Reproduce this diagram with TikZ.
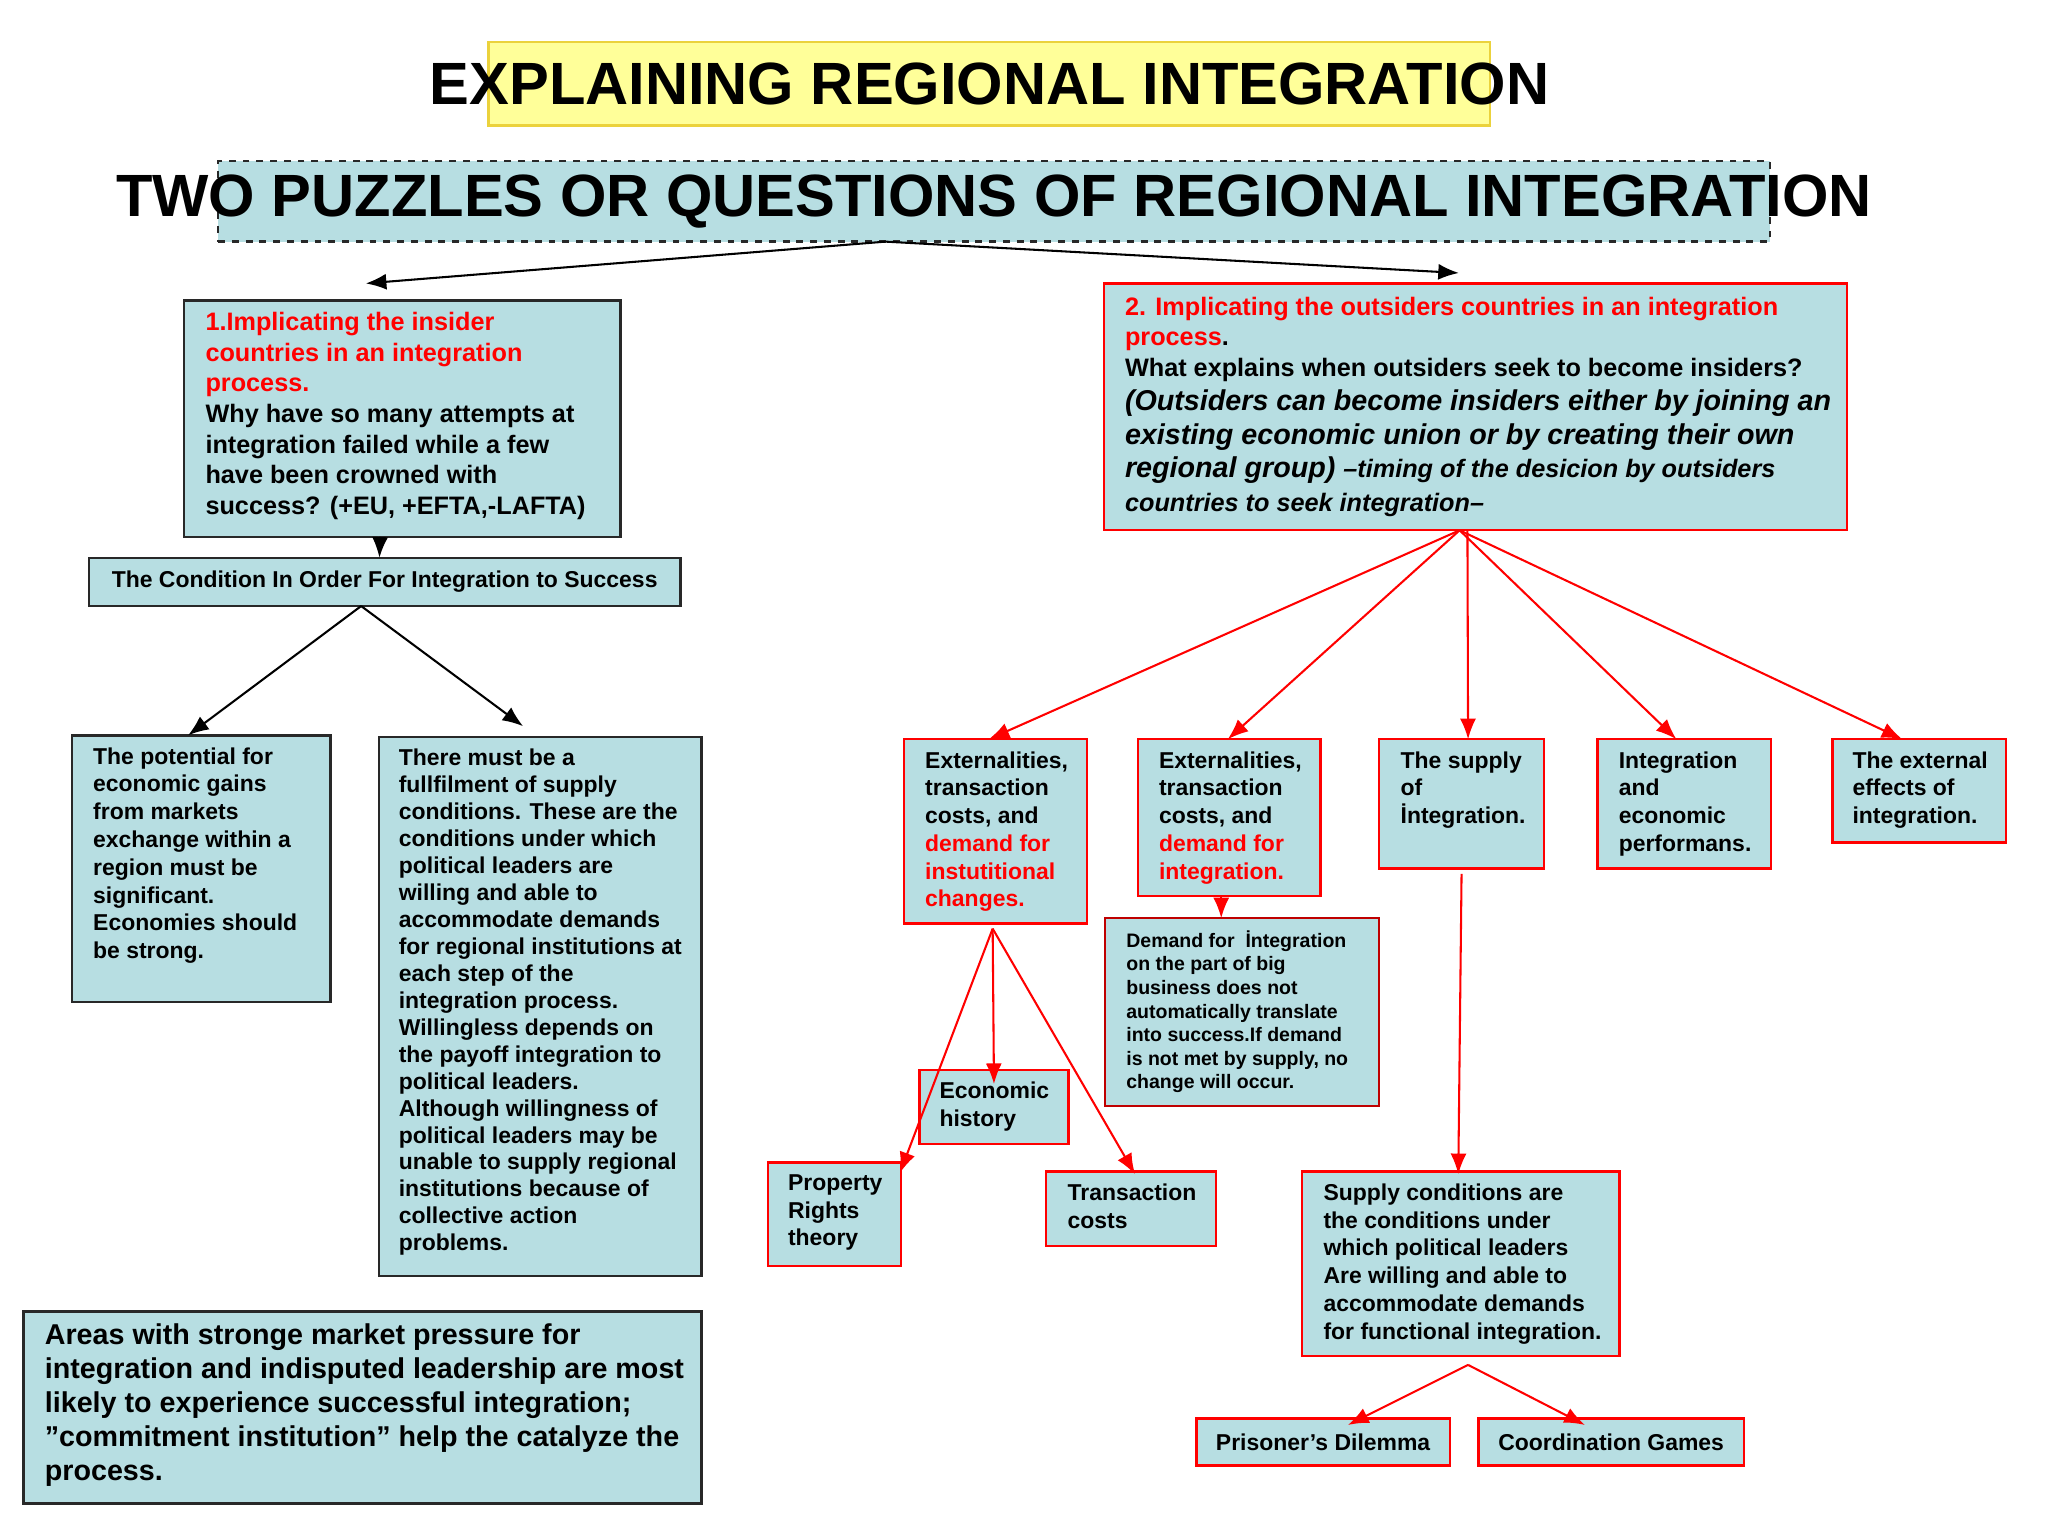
\documentclass[tikz,border=0pt]{standalone}
\usepackage{fontspec}
\setmainfont{Liberation Sans}
\usetikzlibrary{arrows.meta}
\definecolor{lb}{RGB}{183,222,226}
\definecolor{yl}{RGB}{255,255,153}
\definecolor{gd}{RGB}{235,210,60}
\definecolor{rd}{RGB}{255,0,0}
\definecolor{dg}{RGB}{40,40,40}
\newcommand\bx[6]{\node[#6,minimum width={(#4-#2)*0.02cm},minimum height={(#5-#3)*0.02cm}] (#1) at ({(#2+#4)/2},{(#3+#5)/2}) {};}
\tikzset{
 box/.style={draw=dg,fill=lb,line width=1pt,inner sep=0,outer sep=0},
 rbox/.style={draw=rd,fill=lb,line width=1pt,inner sep=0,outer sep=0},
 txt/.style={anchor=north west,align=left,inner sep=0,font=\bfseries\fontsize{10}{12.1}\selectfont},
 ba/.style={-{Latex[length=9pt,width=7pt]},line width=0.9pt},
 ra/.style={-{Latex[length=9pt,width=7pt]},line width=0.9pt,draw=rd},
}
\begin{document}
\begin{tikzpicture}[x=0.02cm,y=-0.02cm]
\useasboundingbox (0,0) rectangle (1568,1176);
\fill[white] (0,0) rectangle (1568,1176);
% title
\bx{title}{374}{32}{1141}{96}{draw=gd,fill=yl,line width=1pt,inner sep=0}
\node[font=\bfseries\fontsize{26}{30}\selectfont] at (title) {EXPLAINING REGIONAL INTEGRATION};
\bx{puz}{167}{123}{1355}{185}{box,dashed,line width=1pt}
\node[font=\bfseries\fontsize{26}{30}\selectfont] at (puz) {TWO PUZZLES OR QUESTIONS OF REGIONAL INTEGRATION};
% left
\bx{ins}{141}{230}{475}{411}{box}
\node[txt,font=\bfseries\fontsize{11}{13.3}\selectfont] at (157,239) {\textcolor{rd}{1.Implicating the insider}\\\textcolor{rd}{countries in an integration}\\\textcolor{rd}{process.}\\Why have so many attempts at\\integration failed while a few\\have been crowned with\\success? (+EU, +EFTA,-LAFTA)};
\bx{cond}{68}{427}{521}{464}{box}
\node[font=\bfseries\fontsize{10}{12}\selectfont] at (cond) {The Condition In Order For Integration to Success};
\bx{pot}{55}{563}{253}{767}{box}
\node[txt] at (71,572) {The potential for\\economic gains\\from markets\\exchange within a\\region must be\\significant.\\Economies should\\be strong.};
\bx{must}{290}{564}{537}{977}{box}
\node[txt,font=\bfseries\fontsize{10}{11.75}\selectfont] at (305,573) {There must be a\\fullfilment of supply\\conditions. These are the\\conditions under which\\political leaders are\\willing and able to\\accommodate demands\\for regional institutions at\\each step of the\\integration process.\\Willingless depends on\\the payoff integration to\\political leaders.\\Although willingness of\\political leaders may be\\unable to supply regional\\institutions because of\\collective action\\problems.};
\bx{areas}{18}{1004}{537}{1151}{box}
\node[txt,font=\bfseries\fontsize{12.5}{14.8}\selectfont] at (34,1013) {Areas with stronge market pressure for\\integration and indisputed leadership are most\\likely to experience successful integration;\\”commitment institution” help the catalyze the\\process.};
% right
\bx{out}{845}{217}{1414}{406}{rbox}
\node[txt,font=\bfseries\fontsize{11}{13.3}\selectfont] at (861,227) {\textcolor{rd}{2. Implicating the outsiders countries in an integration}\\\textcolor{rd}{process}.\\What explains when outsiders seek to become insiders?};
\node[txt,font=\bfseries\itshape\fontsize{12.5}{14.7}\selectfont] at (861,298) {(Outsiders can become insiders either by joining an\\existing economic union or by creating their own\\regional group) {\fontsize{11}{14.7}\selectfont--timing of the desicion by outsiders}\\{\fontsize{11}{14.7}\selectfont countries to seek integration--}};
\bx{e1}{692}{566}{832}{707}{rbox}
\node[txt] at (708,575) {Externalities,\\transaction\\costs, and\\\textcolor{rd}{demand for}\\\textcolor{rd}{instutitional}\\\textcolor{rd}{changes.}};
\bx{e2}{871}{566}{1011}{686}{rbox}
\node[txt] at (887,575) {Externalities,\\transaction\\costs, and\\\textcolor{rd}{demand for}\\\textcolor{rd}{integration.}};
\bx{sup}{1056}{566}{1182}{665}{rbox}
\node[txt] at (1072,575) {The supply\\of\\İntegration.};
\bx{integ}{1223}{566}{1356}{665}{rbox}
\node[txt] at (1239,575) {Integration\\and\\economic\\performans.};
\bx{ext}{1403}{566}{1536}{645}{rbox}
\node[txt] at (1418,575) {The external\\effects of\\integration.};
\bx{dem}{846}{703}{1056}{847}{draw=rd!75!black,fill=lb,line width=1pt,inner sep=0,outer sep=0}
\node[txt,font=\bfseries\fontsize{8.5}{10.3}\selectfont] at (862,712) {Demand for \ İntegration\\on the part of big\\business does not\\automatically translate\\into success.If demand\\is not met by supply, no\\change will occur.};
\bx{eh}{704}{819}{818}{876}{rbox}
\node[txt] at (719,828) {Economic\\history};
\bx{prop}{588}{890}{690}{969}{rbox}
\node[txt] at (603,899) {Property\\Rights\\theory};
\bx{tc}{801}{897}{931}{954}{rbox}
\node[txt] at (817,906) {Transaction\\costs};
\bx{sc}{997}{897}{1240}{1038}{rbox}
\node[txt] at (1013,906) {Supply conditions are\\the conditions under\\which political leaders\\Are willing and able to\\accommodate demands\\for functional integration.};
\bx{pd}{916}{1086}{1110}{1122}{rbox}
\node[font=\bfseries\fontsize{10}{12}\selectfont] at (pd) {Prisoner’s Dilemma};
\bx{cg}{1132}{1086}{1335}{1122}{rbox}
\node[font=\bfseries\fontsize{10}{12}\selectfont] at (cg) {Coordination Games};
% connectors
\coordinate (pl) at (280,217);
\coordinate (pr) at (1117,209);
\draw[ba] ([xshift={-83*0.02cm}]puz.south) -- (pl);
\draw[ba] ([xshift={-83*0.02cm}]puz.south) -- (pr);
\draw[ba] ([xshift={-17*0.02cm}]ins.south) -- ([xshift={-4*0.02cm}]cond.north);
\draw[ba] ([xshift={-18*0.02cm}]cond.south) -- ([xshift={-10*0.02cm}]pot.north);
\draw[ba] ([xshift={-18*0.02cm}]cond.south) -- ([xshift={-13*0.02cm},yshift={8*0.02cm}]must.north);
\draw[ra] ([xshift={-12*0.02cm}]out.south) -- ([xshift={-5*0.02cm}]e1.north);
\draw[ra] ([xshift={-12*0.02cm}]out.south) -- ([xshift={-1*0.02cm}]e2.north);
\draw[ra] ([xshift={-6*0.02cm}]out.south) -- ([xshift={5*0.02cm}]sup.north);
\draw[ra] ([xshift={-12*0.02cm}]out.south) -- ([xshift={-6*0.02cm}]integ.north);
\draw[ra] ([xshift={-12*0.02cm}]out.south) -- ([xshift={-13*0.02cm}]ext.north);
\coordinate (e1b) at (760,711);
\draw[ra] (e1b) -- ([xshift={50*0.02cm},yshift={-8*0.02cm}]prop.north);
\draw[ra] (e1b) -- ([yshift={-11*0.02cm}]eh.north);
\draw[ra] (e1b) -- ([xshift={3*0.02cm},yshift={-2*0.02cm}]tc.north);
\draw[ra] ([xshift={-6*0.02cm}]e2.south) -- ([xshift={-16*0.02cm}]dem.north);
\draw[ra] ([yshift={-4*0.02cm}]sup.south) -- ([xshift={-2*0.02cm},yshift={-2*0.02cm}]sc.north);
\coordinate (scb) at (1124,1045);
\draw[ra] (scb) -- ([xshift={19*0.02cm},yshift={-5*0.02cm}]pd.north);
\draw[ra] (scb) -- ([xshift={-20*0.02cm},yshift={-5*0.02cm}]cg.north);
\end{tikzpicture}
\end{document}
